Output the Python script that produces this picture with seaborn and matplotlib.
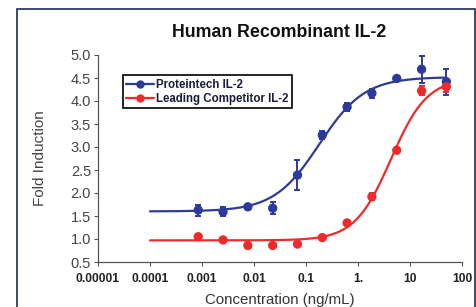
"""Dose-response chart: Human Recombinant IL-2 fold induction."""

import matplotlib

matplotlib.use("Agg")

import matplotlib.pyplot as plt
import numpy as np
import pandas as pd
import seaborn as sns
from matplotlib.lines import Line2D
from matplotlib.patches import Rectangle

# concentrations (ng/mL), 3-fold dilution series
concentration = [0.000847, 0.00254, 0.00762, 0.0229, 0.0686, 0.206, 0.617, 1.85, 5.56, 16.7, 50.0]

proteintech = [1.63, 1.59, 1.70, 1.67, 2.39, 3.26, 3.87, 4.17, 4.49, 4.69, 4.42]
proteintech_err = [0.12, 0.10, 0.05, 0.13, 0.33, 0.08, 0.08, 0.10, 0.04, 0.29, 0.28]

competitor = [1.05, 0.98, 0.86, 0.86, 0.89, 1.03, 1.35, 1.92, 2.93, 4.22, 4.31]
competitor_err = [0.03, 0.03, 0.04, 0.04, 0.04, 0.03, 0.04, 0.08, 0.04, 0.10, 0.12]

# four-parameter logistic fit estimates: bottom, top, EC50, hill slope
proteintech_fit = [1.60, 4.52, 0.18, 1.0]
competitor_fit = [0.97, 4.50, 4.3, 1.25]

series_names = ["Proteintech IL-2", "Leading Competitor IL-2"]
x_ticks = [1e-5, 1e-4, 1e-3, 1e-2, 1e-1, 1, 10, 100]
x_tick_labels = ["0.00001", "0.0001", "0.001", "0.01", "0.1", "1.", "10", "100"]
y_ticks = [0.5, 1.0, 1.5, 2.0, 2.5, 3.0, 3.5, 4.0, 4.5, 5.0]

BLUE = "#2d3a9a"
RED = "#ee2a2c"


def four_pl(x, bottom, top, ec50, hill):
    return bottom + (top - bottom) / (1 + (ec50 / x) ** hill)


def main() -> None:
    sns.set_style("ticks")
    plt.rcParams["font.family"] = ["Liberation Sans", "DejaVu Sans"]

    points = pd.DataFrame(
        {
            "conc": concentration * 2,
            "fold": proteintech + competitor,
            "err": proteintech_err + competitor_err,
            "series": [series_names[0]] * len(concentration) + [series_names[1]] * len(concentration),
        }
    )
    x_fit = np.logspace(-4, np.log10(50), 300)
    curves = pd.DataFrame(
        {
            "conc": np.concatenate([x_fit, x_fit]),
            "fold": np.concatenate([four_pl(x_fit, *proteintech_fit), four_pl(x_fit, *competitor_fit)]),
            "series": [series_names[0]] * len(x_fit) + [series_names[1]] * len(x_fit),
        }
    )
    palette = {series_names[0]: BLUE, series_names[1]: RED}

    fig = plt.figure(figsize=(4.77, 3.07), dpi=100)
    ax = fig.add_axes([98 / 477, 1 - 262 / 307, 364 / 477, 207 / 307])

    sns.lineplot(data=curves, x="conc", y="fold", hue="series", palette=palette,
                 linewidth=1.6, legend=False, ax=ax)
    for name in series_names:
        sub = points[points["series"] == name]
        ax.errorbar(sub["conc"], sub["fold"], yerr=sub["err"], fmt="none",
                    ecolor=palette[name], elinewidth=1.4, capsize=2.5, capthick=1.4, zorder=3)
    sns.scatterplot(data=points, x="conc", y="fold", hue="series", palette=palette,
                    s=45, edgecolor="none", legend=False, ax=ax, zorder=4)

    ax.set_xscale("log")
    ax.set_xlim(1e-5, 100)
    ax.set_ylim(0.5, 5.0)
    ax.set_xticks(x_ticks)
    ax.set_xticklabels(x_tick_labels, fontsize=8.7, fontweight="bold", color="#222222")
    ax.minorticks_off()
    ax.set_yticks(y_ticks)
    ax.set_yticklabels([f"{v:.1f}" for v in y_ticks], fontsize=10.5, color="#444444")
    ax.tick_params(axis="both", length=3, width=0.8, color="#555555", pad=2)
    ax.tick_params(axis="x", pad=5)
    for side in ("top", "right"):
        ax.spines[side].set_visible(False)
    for side in ("left", "bottom"):
        ax.spines[side].set_color("#555555")
        ax.spines[side].set_linewidth(0.9)

    ax.set_xlabel("Concentration (ng/mL)", fontsize=10.8, color="#333333", labelpad=6)
    ax.set_ylabel("Fold Induction", fontsize=11, color="#444444", labelpad=17)
    fig.text(0.585, 0.893, "Human Recombinant IL-2", ha="center", va="center",
             fontsize=12.8, fontweight="bold", color="#111111")

    handles = [
        Line2D([0], [0], color=BLUE, lw=1.6, marker="o", markersize=5),
        Line2D([0], [0], color=RED, lw=1.6, marker="o", markersize=5),
    ]
    legend = ax.legend(handles, series_names, loc="upper left", bbox_to_anchor=(0.052, 0.93),
                       frameon=True, fancybox=False, framealpha=1, edgecolor="black",
                       handlelength=2.4, handletextpad=0.2, borderpad=0.3, labelspacing=0.2,
                       prop={"size": 8.3, "weight": "bold"})
    legend.get_frame().set_linewidth(1.2)
    for text in legend.get_texts():
        text.set_color("#1a1a3a")

    fig.patches.append(Rectangle((17 / 477, -0.05), 458 / 477, 1.05 - 9 / 307,
                                 transform=fig.transFigure, fill=False,
                                 edgecolor="#1c2a5e", linewidth=1.2))

    fig.savefig("out.png", dpi=100)
    plt.close(fig)


if __name__ == "__main__":
    main()
